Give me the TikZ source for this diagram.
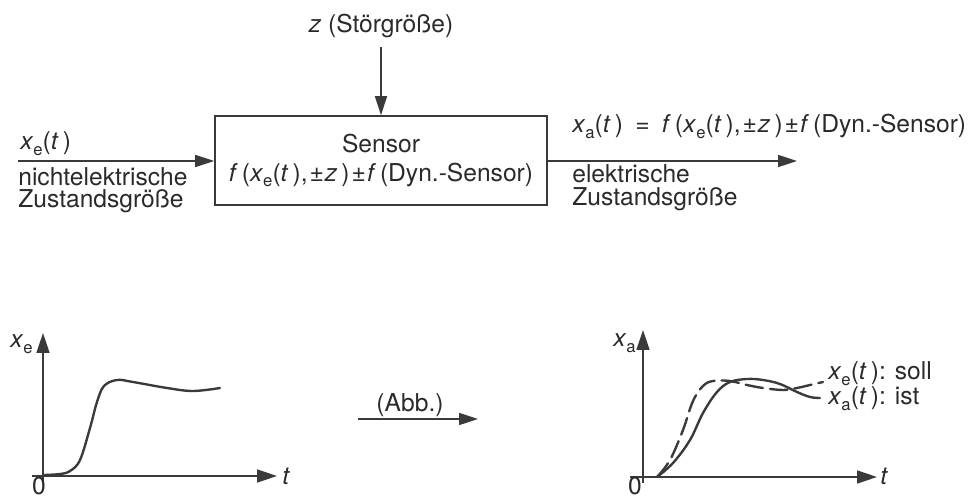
\documentclass[tikz,border=0pt]{standalone}
\usepackage{fontspec}
\setmainfont{TeX Gyre Heros}
\usetikzlibrary{arrows.meta}
\definecolor{ink}{HTML}{2A2A2A}
\definecolor{lineink}{HTML}{3A3A3A}
\newcommand\ix[1]{\textit{#1}}
\newcommand\lsub[1]{\raisebox{-0.4ex}{\fontsize{9.5pt}{10pt}\selectfont #1}}
\newcommand\pmx{\kern0.08em±\kern0.04em}
\begin{document}
\begin{tikzpicture}[x=0.02cm,y=-0.02cm,
  txt/.style={inner sep=0pt, text=ink, font=\fontsize{14pt}{16.4pt}\selectfont},
  lbl/.style={txt, anchor=base west},
  clbl/.style={txt, anchor=base},
  arr/.style={draw=lineink, line width=0.95pt, -{Triangle[length=0.38cm,width=0.24cm]}},
  axis/.style={draw=lineink, line width=0.9pt, -{Triangle[length=0.4cm,width=0.26cm]}},
  curve/.style={draw=lineink, line width=1.35pt, line cap=round, line join=round},
  sensorbox/.style={draw=lineink, line width=0.95pt, txt, align=center, minimum width=6.64cm, minimum height=1.78cm, inner sep=0pt}
]
\useasboundingbox (0,0) rectangle (977,499);

% --- top block diagram ---
\node[sensorbox] (box) at (381,160.5) {Sensor\\ \ix{f}\,(\ix{x}\lsub{e}(\ix{t}\,),\pmx\ix{z}\,)\pmx\ix{f}\,(Dyn.-Sensor)};

\node[clbl] (zlbl) at (381,33) {\ix{z} (Störgröße)};
\coordinate (zS) at (381,47);
\draw[arr] (zS) -- (box.north);

\coordinate (inS) at (18,161);
\draw[arr] (inS) -- (inS -| box.west);
\node[lbl] (xein) at (20,150) {\ix{x}\lsub{e}(\ix{t}\,)};
\node[lbl] (ne1) at (18,186) {nichtelektrische};
\node[lbl] (ne2) at (18,208) {Zustandsgröße};

\coordinate (outE) at (797,161);
\draw[arr] (outE -| box.east) -- (outE);
\node[lbl] (xaout) at (572,133) {\ix{x}\lsub{a}(\ix{t}\,)\enspace=\enspace\ix{f}\,(\ix{x}\lsub{e}(\ix{t}\,),\pmx\ix{z}\,)\pmx\ix{f}\,(Dyn.-Sensor)};
\node[lbl] (el1) at (572,183) {elektrische};
\node[lbl] (el2) at (572,206) {Zustandsgröße};

% --- left graph ---
\coordinate (yb1) at (43,482);
\coordinate (yt1) at (43,333);
\coordinate (xl1) at (32,476);
\coordinate (xr1) at (277,476);
\draw[axis] (yb1) -- (yt1);
\draw[axis] (xl1) -- (xr1);
\node[lbl] (t1) at (282,485) {\ix{t}};
\node[clbl] (o1) at (39,495) {0};
\node[lbl] (xe1) at (10,348) {\ix{x}\lsub{e}};
\draw[curve] plot[smooth, tension=0.6] coordinates {(44,475) (60,474) (70,471) (80,460) (90,428) (97,402) (104,386) (117,380) (133,382) (167,388) (193,391) (220,388)};

% --- mapping arrow ---
\coordinate (abS) at (358,419);
\coordinate (abE) at (478,419);
\draw[arr] (abS) -- (abE);
\node[clbl] (abb) at (410,412) {(Abb.)};

% --- right graph ---
\coordinate (yb2) at (643,483);
\coordinate (yt2) at (643,330);
\coordinate (xl2) at (630,477);
\coordinate (xr2) at (877,477);
\draw[axis] (yb2) -- (yt2);
\draw[axis] (xl2) -- (xr2);
\node[lbl] (t2) at (880,485) {\ix{t}};
\node[clbl] (o2) at (635,495) {0};
\node[lbl] (xa2) at (613,347) {\ix{x}\lsub{a}};
\draw[curve, dash pattern=on 10pt off 4pt] plot[smooth, tension=0.6] coordinates {(657,477) (670,460) (683,430) (693,401) (703,386) (713,381) (730,381) (747,385) (763,388) (783,390) (797,388) (810,385) (823,382)};
\draw[curve] plot[smooth, tension=0.6] coordinates {(657,477) (673,463) (690,440) (703,413) (717,392) (730,382) (747,379) (763,380) (780,384) (797,392) (810,397) (820,398)};
\node[lbl] (soll) at (828,380) {\ix{x}\lsub{e}(\ix{t}\,): soll};
\node[lbl] (ist) at (828,405) {\ix{x}\lsub{a}(\ix{t}\,): ist};
\end{tikzpicture}
\end{document}
